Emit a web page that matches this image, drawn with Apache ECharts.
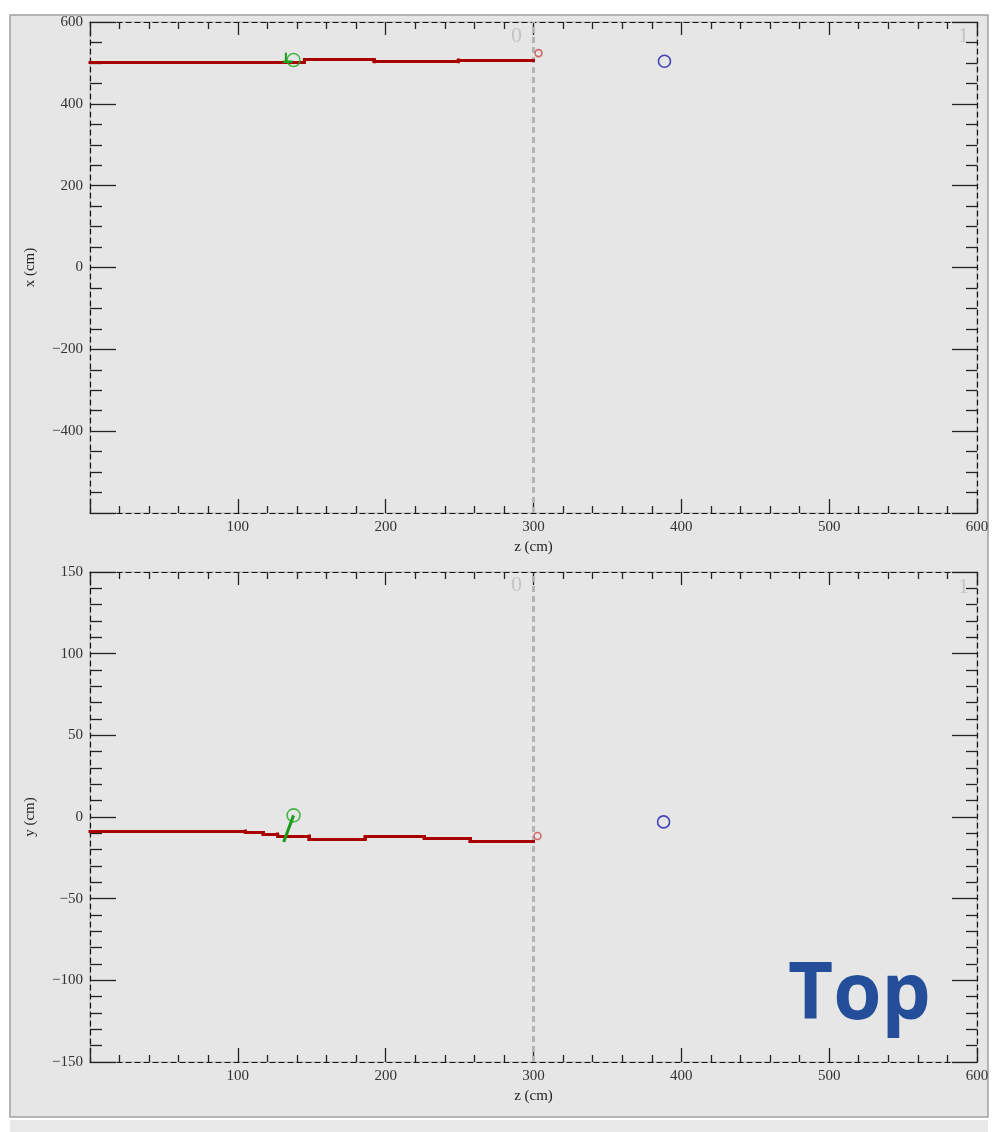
<!DOCTYPE html>
<html>
<head>
<meta charset="utf-8">
<script src="https://cdn.jsdelivr.net/npm/echarts@6/dist/echarts.min.js"></script>
<style>
  html, body { margin: 0; padding: 0; background: #ffffff; }
  #main { width: 1002px; height: 1132px; }
</style>
</head>
<body>
<div id="main"></div>
<script>
// reconstructed track, top view (z vs x) and side view (z vs y)
var topTrackZ = [0, 145, 192, 249, 300];
var topTrackX = [502, 508, 503, 507, 507];
var sideTrackZ = [0, 105, 117, 127, 148, 186, 226, 257, 300];
var sideTrackY = [-8.6, -9.5, -10.4, -11.6, -13.5, -11.9, -13.2, -14.7, -14.7];

// green secondary track + vertex
var topGreenZ = [130.5, 137];
var topGreenX = [503, 503];
var topGreenStubZ = [132.5, 132.5];
var topGreenStubX = [503, 525];
var sideGreenZ = [131, 137.7];
var sideGreenY = [-15.3, 1];
var topVertex = [137.7, 507];
var sideVertex = [137.7, 1];

// other markers
var topBlue = [388.6, 504];
var sideBlue = [388, -3];
var topRedEnd = [303.4, 524];
var sideRedEnd = [302.7, -11.6];

// detector boundary at z = 300
var boundaryZ = 300;
var topRange = [-600, 600];
var sideRange = [-150, 150];

function pairs(a, b) {
    var out = [];
    for (var i = 0; i < a.length; i++) out.push([a[i], b[i]]);
    return out;
}
// step track as separate 2-point segments (tiny jumps get dropped in a polyline)
function stepSegments(a, b) {
    var pts = [];
    for (var i = 0; i < a.length; i++) {
        pts.push([a[i], b[i]]);
        if (i + 1 < a.length) pts.push([a[i + 1], b[i]]);
    }
    var segs = [];
    for (var j = 0; j + 1 < pts.length; j++) {
        if (pts[j][0] === pts[j + 1][0] && pts[j][1] === pts[j + 1][1]) continue;
        segs.push({ coords: [pts[j], pts[j + 1]] });
    }
    return segs;
}

var serif = 'Liberation Serif';
var minus = function (v) { return String(v).replace('-', '\u2212'); };
var tickColor = '#222';

function xAxes(gridIndex) {
    var line = { show: true, onZero: false, lineStyle: { color: '#111', width: 1.2, type: [5, 4] } };
    return [
        {
            type: 'value', gridIndex: gridIndex, min: 0, max: 600, interval: 100,
            position: 'bottom',
            name: 'z (cm)', nameLocation: 'middle', nameGap: 27,
            nameTextStyle: { fontFamily: serif, fontSize: 15, color: '#222' },
            axisLine: line,
            axisTick: { inside: true, length: 14, lineStyle: { color: tickColor, width: 1.3 } },
            minorTick: { show: true, splitNumber: 5, length: 7, lineStyle: { color: tickColor, width: 1.3 } },
            axisLabel: { showMinLabel: false, margin: 7, fontFamily: serif, fontSize: 15, color: '#333' },
            splitLine: { show: false }
        },
        {
            type: 'value', gridIndex: gridIndex, min: 0, max: 600, interval: 100,
            position: 'top',
            axisLine: line,
            axisTick: { inside: true, length: 13, lineStyle: { color: tickColor, width: 1.3 } },
            minorTick: { show: true, splitNumber: 5, length: 7, lineStyle: { color: tickColor, width: 1.3 } },
            axisLabel: { show: false },
            splitLine: { show: false }
        }
    ];
}

function yAxes(gridIndex, range, interval, minorSplit, name, hideMin) {
    var line = { show: true, onZero: false, lineStyle: { color: '#111', width: 1.2, type: [5, 4] } };
    return [
        {
            type: 'value', gridIndex: gridIndex, min: range[0], max: range[1], interval: interval,
            position: 'left',
            name: name, nameLocation: 'middle', nameGap: 52,
            nameTextStyle: { fontFamily: serif, fontSize: 15, color: '#222' },
            axisLine: line,
            axisTick: { inside: true, length: 26, lineStyle: { color: tickColor, width: 1.3 } },
            minorTick: { show: true, splitNumber: minorSplit, length: 12, lineStyle: { color: tickColor, width: 1.3 } },
            axisLabel: { showMinLabel: !hideMin, margin: 7, fontFamily: serif, fontSize: 15, color: '#333', formatter: minus },
            splitLine: { show: false }
        },
        {
            type: 'value', gridIndex: gridIndex, min: range[0], max: range[1], interval: interval,
            position: 'right',
            axisLine: line,
            axisTick: { inside: true, length: 25, lineStyle: { color: tickColor, width: 1.3 } },
            minorTick: { show: true, splitNumber: minorSplit, length: 11, lineStyle: { color: tickColor, width: 1.3 } },
            axisLabel: { show: false },
            splitLine: { show: false }
        }
    ];
}

function plainLine(xi, yi, data, color, width, type, z) {
    return { type: 'line', xAxisIndex: xi, yAxisIndex: yi, data: data, symbol: 'none',
             lineStyle: { color: color, width: width, type: type || 'solid' }, z: z || 3, silent: true };
}
function trackLines(xi, yi, segs) {
    return { type: 'lines', coordinateSystem: 'cartesian2d', xAxisIndex: xi, yAxisIndex: yi, data: segs,
             lineStyle: { color: '#a80000', width: 3, opacity: 1, cap: 'square' }, z: 4, silent: true };
}
function marker(xi, yi, pt, color, size) {
    return { type: 'scatter', xAxisIndex: xi, yAxisIndex: yi, data: [pt], symbol: 'circle',
             symbolSize: size, itemStyle: { color: 'rgba(0,0,0,0)', borderColor: color, borderWidth: 1.6 }, z: 6, silent: true };
}

var option = {
    backgroundColor: '#ffffff',
    animation: false,
    grid: [
        { left: 90, top: 22, width: 887, height: 491, show: true, backgroundColor: '#e6e6e6', borderColor: '#b8b8b8', borderWidth: 1, outerBoundsMode: 'none' },
        { left: 90, top: 572, width: 887, height: 490, show: true, backgroundColor: '#e6e6e6', borderColor: '#b8b8b8', borderWidth: 1, outerBoundsMode: 'none' }
    ],
    xAxis: xAxes(0).concat(xAxes(1)),
    yAxis: yAxes(0, topRange, 200, 4, 'x (cm)', true).concat(yAxes(1, sideRange, 50, 5, 'y (cm)', false)),
    graphic: [
        { type: 'rect', z: -10, shape: { x: 10, y: 15, width: 978, height: 1102 },
          style: { fill: '#e6e6e6', stroke: '#a0a0a0', lineWidth: 1.5 } },
        { type: 'rect', z: -10, shape: { x: 10, y: 1120, width: 978, height: 12 },
          style: { fill: '#e9e9e9' } },
        { type: 'text', z: 10, left: 511, top: 25, style: { text: '0', fontFamily: serif, fontSize: 22, fill: '#c4c4c4' } },
        { type: 'text', z: 10, left: 958, top: 25, style: { text: '1', fontFamily: serif, fontSize: 22, fill: '#c4c4c4' } },
        { type: 'text', z: 10, left: 511, top: 574, style: { text: '0', fontFamily: serif, fontSize: 22, fill: '#c4c4c4' } },
        { type: 'text', z: 10, left: 958, top: 576, style: { text: '1', fontFamily: serif, fontSize: 22, fill: '#c4c4c4' } },
        { type: 'text', z: 10, left: 788, top: 958, style: { text: 'Top', fontFamily: 'Open Sans', fontWeight: 'bold', fontSize: 78, fill: '#244e99' } }
    ],
    series: [
        plainLine(0, 0, [[boundaryZ, topRange[0]], [boundaryZ, topRange[1]]], '#b4b4b4', 3, [6, 4], 2),
        trackLines(0, 0, stepSegments(topTrackZ, topTrackX)),
        plainLine(0, 0, pairs(topGreenZ, topGreenX), '#1a9a1a', 2.5, 'solid', 5),
        plainLine(0, 0, pairs(topGreenStubZ, topGreenStubX), '#1a9a1a', 2, 'solid', 5),
        marker(0, 0, topVertex, '#22aa22', 13),
        marker(0, 0, topBlue, '#1a1ab0', 12),
        marker(0, 0, topRedEnd, '#d04848', 7),

        plainLine(2, 2, [[boundaryZ, sideRange[0]], [boundaryZ, sideRange[1]]], '#b4b4b4', 3, [6, 4], 2),
        trackLines(2, 2, stepSegments(sideTrackZ, sideTrackY)),
        plainLine(2, 2, pairs(sideGreenZ, sideGreenY), '#1a9a1a', 3, 'solid', 5),
        marker(2, 2, sideVertex, '#22aa22', 13),
        marker(2, 2, sideBlue, '#1a1ab0', 12),
        marker(2, 2, sideRedEnd, '#d04848', 7)
    ]
};

var myChart = echarts.init(document.getElementById('main'));
myChart.setOption(option);
</script>
</body>
</html>
